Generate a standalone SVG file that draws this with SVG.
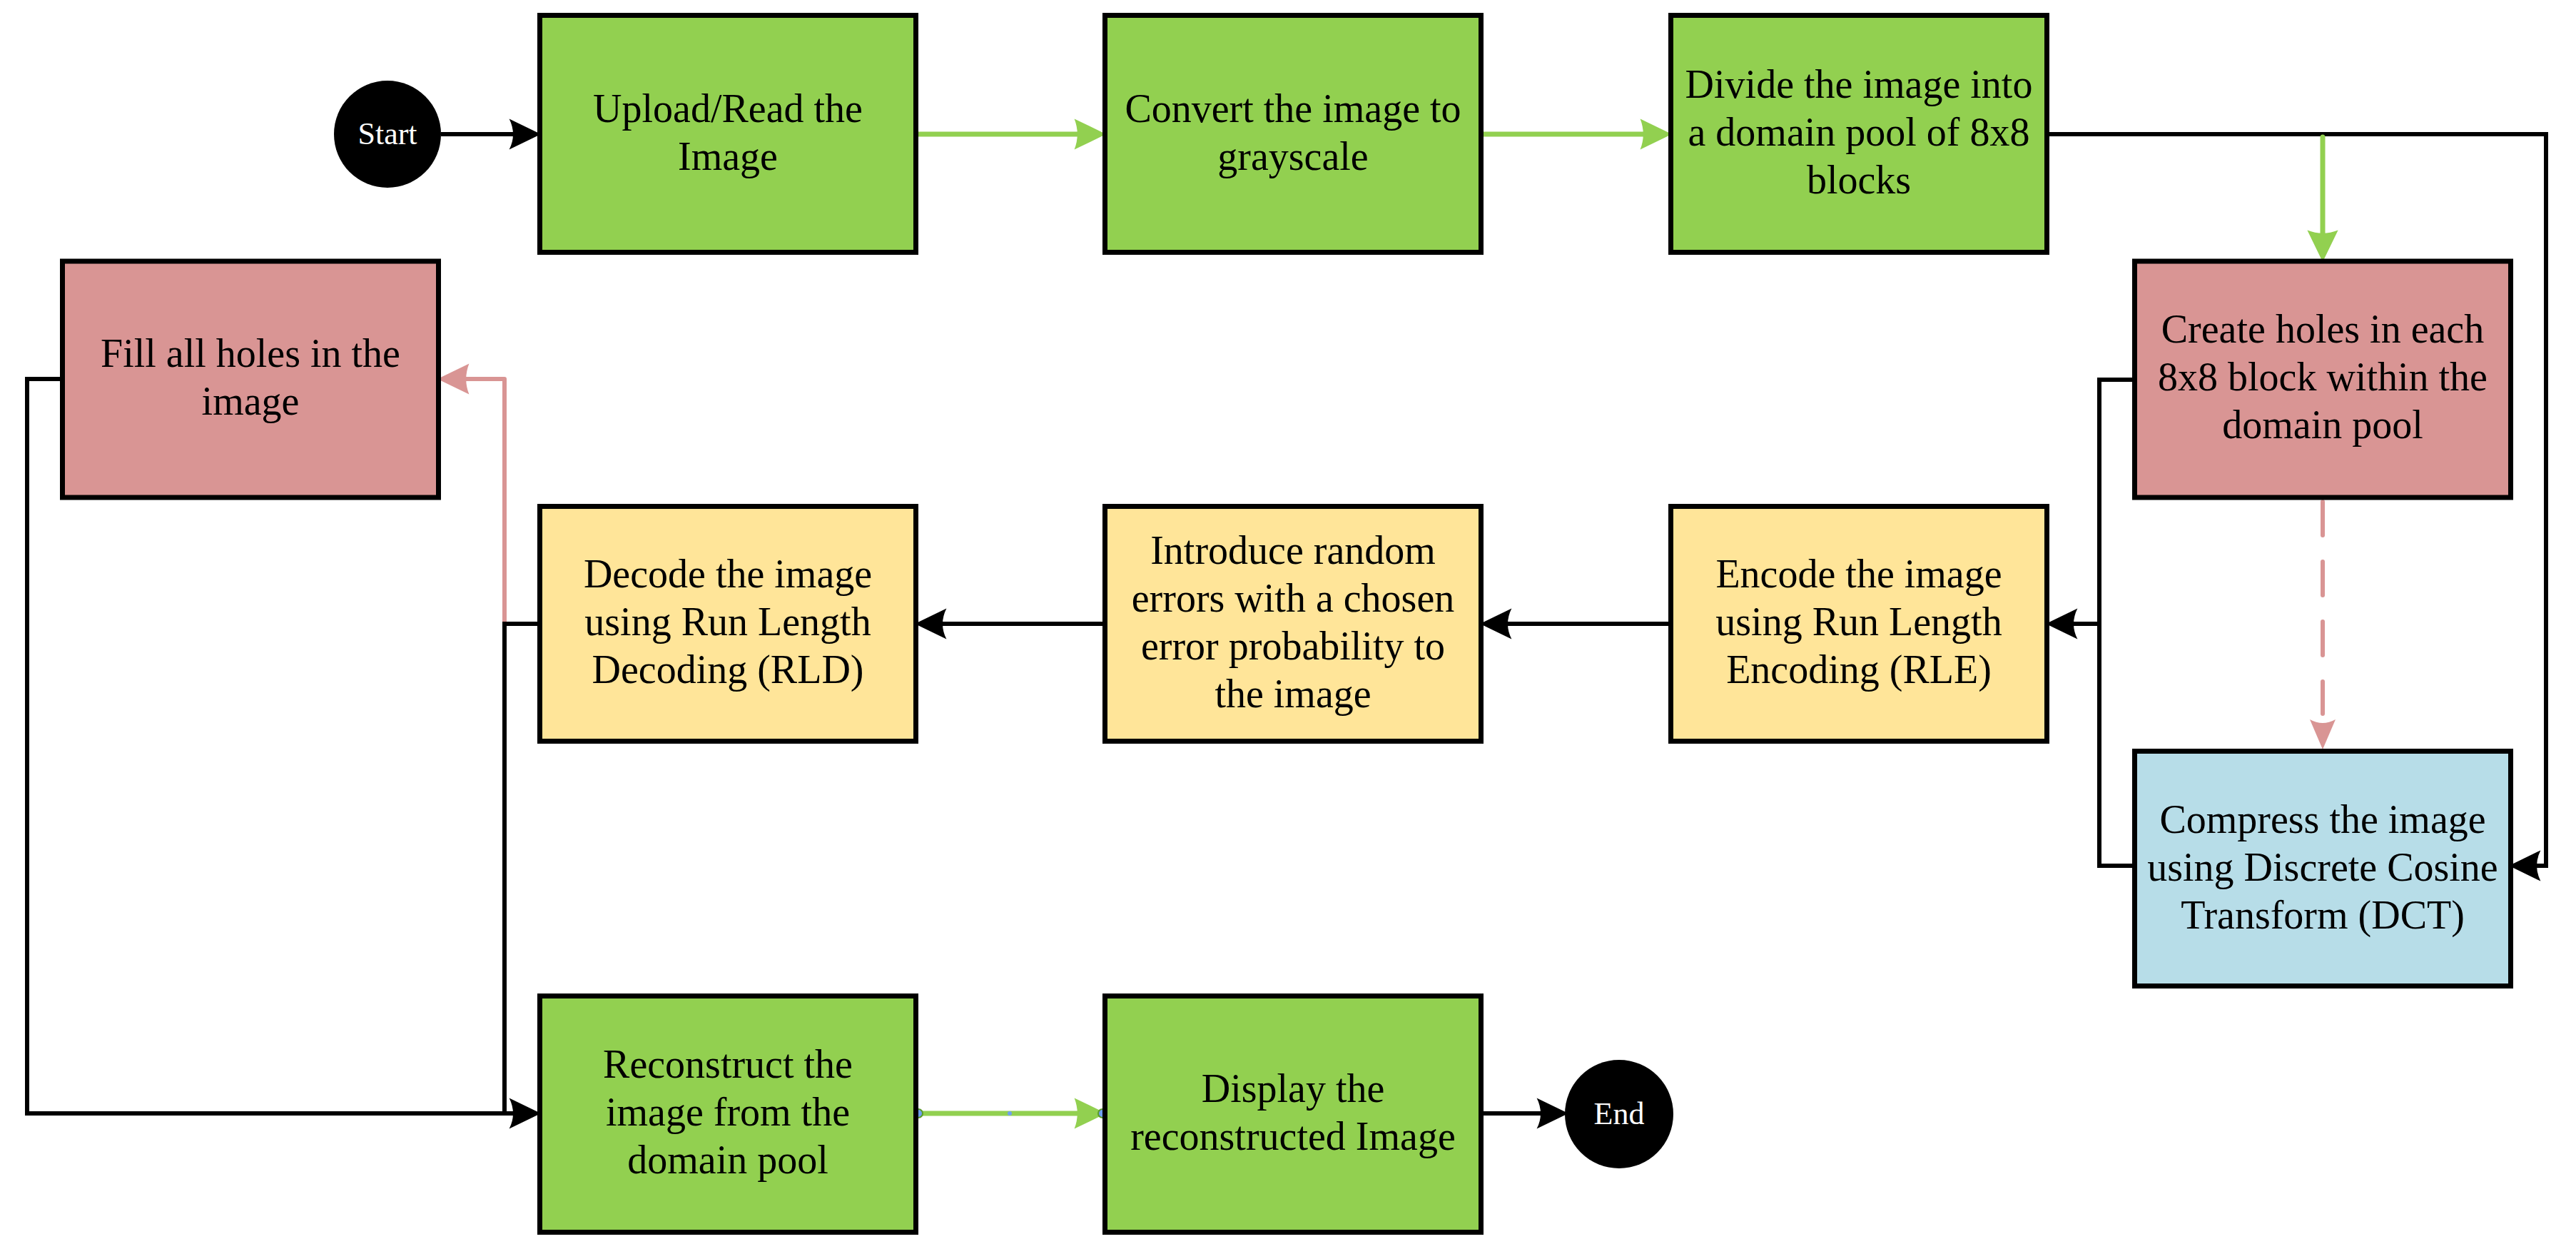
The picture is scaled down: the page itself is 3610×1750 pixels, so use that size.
<svg xmlns="http://www.w3.org/2000/svg" width="3610" height="1750" viewBox="0 0 3610 1750">
<style>
.box{stroke:#000;stroke-width:7}
.g{fill:#92D050}.p{fill:#D99594}.y{fill:#FFE599}.b{fill:#B7DDE8}
.t{font-family:"Liberation Serif","Times New Roman",serif;font-size:56px;fill:#000;text-anchor:middle}
.tw{font-family:"Liberation Serif","Times New Roman",serif;font-size:44px;fill:#fff;text-anchor:middle}
.kb{fill:none;stroke:#000;stroke-width:6;stroke-linejoin:miter}
.kg{fill:none;stroke:#92D050;stroke-width:7;stroke-linecap:round}
.kp{fill:none;stroke:#D99594;stroke-width:6;stroke-linecap:round;stroke-linejoin:round}
</style>
<defs>
<marker id="ab" markerUnits="userSpaceOnUse" markerWidth="60" markerHeight="60" viewBox="-20 -25 50 50" refX="0" refY="0" orient="auto" overflow="visible">
<path d="M25,0 L-12,-18 Q-3,0 -12,18 Z" fill="#000"/>
</marker>
<marker id="ag" markerUnits="userSpaceOnUse" markerWidth="60" markerHeight="60" viewBox="-20 -25 50 50" refX="0" refY="0" orient="auto" overflow="visible">
<path d="M25,0 L-12,-18 Q-5,0 -12,18 Z" fill="#92D050"/>
</marker>
<marker id="ap" markerUnits="userSpaceOnUse" markerWidth="60" markerHeight="60" viewBox="-20 -25 50 50" refX="0" refY="0" orient="auto" overflow="visible">
<path d="M25,0 L-12,-18 Q-5,0 -12,18 Z" fill="#D99594"/>
</marker>
</defs>
<rect width="3610" height="1750" fill="#fff"/>

<g id="connectors">
<path class="kb" d="M618,188 H728" marker-end="url(#ab)"/>
<path class="kg" d="M1287,188 H1520" marker-end="url(#ag)"/>
<path class="kg" d="M2079,188 H2313" marker-end="url(#ag)"/>
<path class="kb" d="M2872,188 H3568 V1213 H3546" marker-end="url(#ab)"/>
<path class="kg" d="M3255,192 V337" marker-end="url(#ag)"/>
<path class="kp" d="M3255,703 V1000" stroke-dasharray="47 37"/>
<path d="M3255,1050 L3237,1008 Q3255,1018 3273,1008 Z" fill="#D99594"/>
<path class="kb" d="M2988,532 H2942 V1213 H2988"/>
<path class="kb" d="M2942,874 H2897" marker-end="url(#ab)"/>
<path class="kb" d="M2338,874 H2104" marker-end="url(#ab)"/>
<path class="kb" d="M1545,874 H1312" marker-end="url(#ab)"/>
<path class="kp" d="M707,871 V531 H643" marker-end="url(#ap)"/>
<path class="kb" d="M753,874 H707 V1560"/>
<path class="kb" d="M84,531 H38 V1560 H728" marker-end="url(#ab)"/>
<path class="kg" d="M1287,1560 H1520" marker-end="url(#ag)"/>
<path class="kb" d="M2079,1560 H2168" marker-end="url(#ab)"/>
<circle cx="1287" cy="1560" r="6" fill="#6FA0F0" stroke="#5A9A2A" stroke-width="2"/>
<circle cx="1545" cy="1560" r="6" fill="#6FA0F0" stroke="#5A9A2A" stroke-width="2"/>
<circle cx="1415" cy="1560" r="3" fill="#6FA0F0"/>
</g>

<g id="start">
<circle cx="543" cy="188" r="75" fill="#000"/>
<text class="tw" x="543" y="202">Start</text>
</g>
<g id="upload">
<rect class="box g" x="756.5" y="21.5" width="527" height="332"/>
<text class="t" x="1020" y="171">Upload/Read the</text>
<text class="t" x="1020" y="238">Image</text>
</g>
<g id="convert">
<rect class="box g" x="1548.5" y="21.5" width="527" height="332"/>
<text class="t" x="1812" y="171">Convert the image to</text>
<text class="t" x="1812" y="238">grayscale</text>
</g>
<g id="divide">
<rect class="box g" x="2341.5" y="21.5" width="527" height="332"/>
<text class="t" x="2605" y="137">Divide the image into</text>
<text class="t" x="2605" y="204">a domain pool of 8x8</text>
<text class="t" x="2605" y="271">blocks</text>
</g>
<g id="create-holes">
<rect class="box p" x="2991.5" y="366" width="527" height="331"/>
<text class="t" x="3255" y="480">Create holes in each</text>
<text class="t" x="3255" y="547">8x8 block within the</text>
<text class="t" x="3255" y="614">domain pool</text>
</g>
<g id="fill-holes">
<rect class="box p" x="87.5" y="366" width="527" height="331"/>
<text class="t" x="351" y="514">Fill all holes in the</text>
<text class="t" x="351" y="581">image</text>
</g>
<g id="decode">
<rect class="box y" x="756.5" y="709.5" width="527" height="329"/>
<text class="t" x="1020" y="823">Decode the image</text>
<text class="t" x="1020" y="890">using Run Length</text>
<text class="t" x="1020" y="957">Decoding (RLD)</text>
</g>
<g id="introduce">
<rect class="box y" x="1548.5" y="709.5" width="527" height="329"/>
<text class="t" x="1812" y="790">Introduce random</text>
<text class="t" x="1812" y="857">errors with a chosen</text>
<text class="t" x="1812" y="924">error probability to</text>
<text class="t" x="1812" y="991">the image</text>
</g>
<g id="encode">
<rect class="box y" x="2341.5" y="709.5" width="527" height="329"/>
<text class="t" x="2605" y="823">Encode the image</text>
<text class="t" x="2605" y="890">using Run Length</text>
<text class="t" x="2605" y="957">Encoding (RLE)</text>
</g>
<g id="compress">
<rect class="box b" x="2991.5" y="1052.5" width="527" height="329"/>
<text class="t" x="3255" y="1167">Compress the image</text>
<text class="t" x="3255" y="1234">using Discrete Cosine</text>
<text class="t" x="3255" y="1301">Transform (DCT)</text>
</g>
<g id="reconstruct">
<rect class="box g" x="756.5" y="1395.5" width="527" height="331"/>
<text class="t" x="1020" y="1510">Reconstruct the</text>
<text class="t" x="1020" y="1577">image from the</text>
<text class="t" x="1020" y="1644">domain pool</text>
</g>
<g id="display">
<rect class="box g" x="1548.5" y="1395.5" width="527" height="331"/>
<text class="t" x="1812" y="1544">Display the</text>
<text class="t" x="1812" y="1611">reconstructed Image</text>
</g>
<g id="end">
<circle cx="2269" cy="1561" r="76" fill="#000"/>
<text class="tw" x="2269" y="1575">End</text>
</g>
</svg>
